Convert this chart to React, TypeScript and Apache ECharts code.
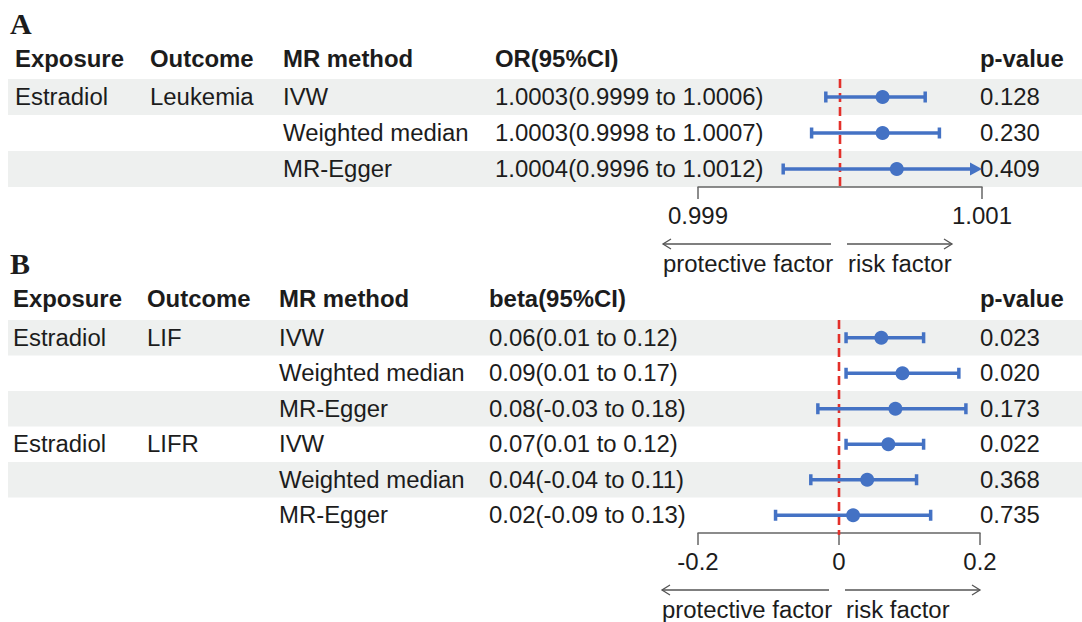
import React, { useEffect, useRef } from "react";
import * as echarts from "echarts";

// ---------- Data ----------
const headersA = ["Exposure", "Outcome", "MR method", "OR(95%CI)", "p-value"];
const exposureA = ["Estradiol", "", ""];
const outcomeA = ["Leukemia", "", ""];
const methodA = ["IVW", "Weighted median", "MR-Egger"];
const orA = [1.0003, 1.0003, 1.0004];
const orLowA = [0.9999, 0.9998, 0.9996];
const orHighA = [1.0006, 1.0007, 1.0012];
const pA = ["0.128", "0.230", "0.409"];
const axisMinA = 0.999; // left tick label
const axisMaxA = 1.001; // right tick label
const nullA = 1;

const headersB = ["Exposure", "Outcome", "MR method", "beta(95%CI)", "p-value"];
const exposureB = ["Estradiol", "", "", "Estradiol", "", ""];
const outcomeB = ["LIF", "", "", "LIFR", "", ""];
const methodB = ["IVW", "Weighted median", "MR-Egger", "IVW", "Weighted median", "MR-Egger"];
const betaB = [0.06, 0.09, 0.08, 0.07, 0.04, 0.02];
const betaLowB = [0.01, 0.01, -0.03, 0.01, -0.04, -0.09];
const betaHighB = [0.12, 0.17, 0.18, 0.12, 0.11, 0.13];
const pB = ["0.023", "0.020", "0.173", "0.022", "0.368", "0.735"];
const axisMinB = -0.2;
const axisMaxB = 0.2;
const nullB = 0;

const leftLabel = "protective factor";
const rightLabel = "risk factor";

// OR axis is drawn in units of 0.001 measured from its left end (so min is 0, a multiple of the interval)
const toA = (v: number) => (v - axisMinA) * 1000;
const fromA = (u: number) => axisMinA + u / 1000;

// ---------- Style / layout ----------
const SANS = '"Liberation Sans", Arial, sans-serif';
const SERIF = '"Liberation Serif", "Times New Roman", serif';
const FS = 23;
const SX = 1.04;
const TXT = "#1c1c1c";
const BAND = "#eef0ef";
const BLUE = "#4472c4";
const RED = "#e3302a";
const AXIS = "#666666";

const A = { top: 79, rowH: 36, headerY: 59, titleY: 23, cols: [15, 150, 283, 495, 980], left: 698, width: 284, arrowY: 244, labelY: 264, leftArrow: [663, 831], rightArrow: [847, 952] };
const B = { top: 320, rowH: 35.5, headerY: 299, titleY: 263, cols: [13, 147, 279, 489, 980], left: 698, width: 282, arrowY: 590, labelY: 610, leftArrow: [662, 829], rightArrow: [845, 980] };

function txt(text: string, x: number, y: number, bold = false, font = SANS, size = FS, sx = SX): any {
  return {
    type: "text",
    x,
    y,
    scaleX: sx,
    silent: true,
    style: {
      text,
      fill: TXT,
      font: `${bold ? "bold " : ""}${size}px ${font}`,
      align: "left",
      verticalAlign: "middle",
      textAlign: "left",
      textVerticalAlign: "middle",
    },
  };
}

function tableGraphics(L: any, headers: string[], cols: string[][], n: number, title: string) {
  const els: any[] = [];
  for (let i = 0; i < n; i += 2) {
    els.push({ type: "rect", silent: true, z: -10, shape: { x: 8, y: L.top + i * L.rowH, width: 1082 - 8, height: L.rowH }, style: { fill: BAND } });
  }
  els.push(txt(title, 10, L.titleY, true, SERIF, 30, 1));
  headers.forEach((h, c) => els.push(txt(h, L.cols[c], L.headerY, true)));
  for (let i = 0; i < n; i++) {
    const yc = L.top + (i + 0.5) * L.rowH;
    cols.forEach((col, c) => {
      if (col[i]) els.push(txt(col[i], L.cols[c], yc));
    });
  }
  const ay = L.arrowY;
  const arrowStyle = { stroke: "#555", lineWidth: 1.3 };
  els.push({ type: "line", silent: true, shape: { x1: L.leftArrow[0], y1: ay, x2: L.leftArrow[1], y2: ay }, style: arrowStyle });
  els.push({ type: "polyline", silent: true, shape: { points: [[L.leftArrow[0] + 8, ay - 5], [L.leftArrow[0], ay], [L.leftArrow[0] + 8, ay + 5]] }, style: { ...arrowStyle, fill: "none" } });
  els.push({ type: "line", silent: true, shape: { x1: L.rightArrow[0], y1: ay, x2: L.rightArrow[1], y2: ay }, style: arrowStyle });
  els.push({ type: "polyline", silent: true, shape: { points: [[L.rightArrow[1] - 8, ay - 5], [L.rightArrow[1], ay], [L.rightArrow[1] - 8, ay + 5]] }, style: { ...arrowStyle, fill: "none" } });
  els.push(txt(leftLabel, L.leftArrow[0], L.labelY));
  els.push(txt(rightLabel, L.rightArrow[0] + 1, L.labelY));
  return els;
}

function renderForest(params: any, api: any) {
  const low = api.value(0);
  const high = api.value(1);
  const est = api.value(2);
  const idx = api.value(3);
  const ref = api.value(4);
  const cs = params.coordSys;
  const pL = api.coord([low, idx]);
  const pH = api.coord([high, idx]);
  const pE = api.coord([est, idx]);
  const y = pE[1];
  let x1 = pL[0];
  let x2 = pH[0];
  let arrowL = false;
  let arrowR = false;
  if (x1 < cs.x) { x1 = cs.x; arrowL = true; }
  if (x2 > cs.x + cs.width) { x2 = cs.x + cs.width; arrowR = true; }
  const ls = { stroke: BLUE, lineWidth: 3.5 };
  const children: any[] = [];
  if (params.dataIndex === 0) {
    const xr = api.coord([ref, idx])[0];
    children.push({ type: "line", z2: -1, shape: { x1: xr, y1: cs.y, x2: xr, y2: cs.y + cs.height + 2 }, style: { stroke: RED, lineWidth: 2.6, lineDash: [9, 5] } });
  }
  children.push({ type: "line", shape: { x1: arrowL ? x1 + 10 : x1, y1: y, x2: arrowR ? x2 - 10 : x2, y2: y }, style: ls });
  if (arrowL) children.push({ type: "polygon", shape: { points: [[x1 + 12, y - 6.5], [x1, y], [x1 + 12, y + 6.5]] }, style: { fill: BLUE } });
  else children.push({ type: "line", shape: { x1, y1: y - 5.5, x2: x1, y2: y + 5.5 }, style: ls });
  if (arrowR) children.push({ type: "polygon", shape: { points: [[x2 - 12, y - 6.5], [x2, y], [x2 - 12, y + 6.5]] }, style: { fill: BLUE } });
  else children.push({ type: "line", shape: { x1: x2, y1: y - 5.5, x2, y2: y + 5.5 }, style: ls });
  children.push({ type: "circle", shape: { cx: pE[0], cy: y, r: 7 }, style: { fill: BLUE } });
  return { type: "group", children };
}

function xAxisOpt(gridIndex: number, min: number, max: number, interval: number, formatter?: (v: number) => string) {
  return {
    type: "value",
    gridIndex,
    min,
    max,
    interval,
    position: "bottom",
    axisLine: { show: true, lineStyle: { color: AXIS, width: 1.5 } },
    axisTick: { show: true, inside: false, length: 12, lineStyle: { color: AXIS, width: 1.5 } },
    axisLabel: { margin: 16, fontSize: 24, fontFamily: SANS, color: TXT, ...(formatter ? { formatter } : {}) },
    splitLine: { show: false },
  };
}

export default function App() {
  const ref = useRef<HTMLDivElement>(null);
  useEffect(() => {
    if (!ref.current) return;
    const chart = echarts.init(ref.current, undefined, { renderer: "svg" });
    const ciA = orA.map((v, i) => `${v.toFixed(4)}(${orLowA[i].toFixed(4)} to ${orHighA[i].toFixed(4)})`);
    const ciB = betaB.map((v, i) => `${v.toFixed(2)}(${betaLowB[i].toFixed(2)} to ${betaHighB[i].toFixed(2)})`);
    const graphics = [
      ...tableGraphics(A, headersA, [exposureA, outcomeA, methodA, ciA, pA], methodA.length, "A"),
      ...tableGraphics(B, headersB, [exposureB, outcomeB, methodB, ciB, pB], methodB.length, "B"),
    ];
    const spanA = toA(axisMaxA);
    chart.setOption({
      animation: false,
      grid: [
        { left: A.left, top: A.top, width: A.width, height: A.rowH * methodA.length },
        { left: B.left, top: B.top, width: B.width, height: B.rowH * methodB.length },
      ],
      xAxis: [
        xAxisOpt(0, 0, spanA, spanA, (v: number) => fromA(v).toFixed(3)),
        xAxisOpt(1, axisMinB, axisMaxB, axisMaxB),
      ],
      yAxis: [
        { type: "category", gridIndex: 0, data: methodA.map((m, i) => `${i}`), inverse: true, show: false },
        { type: "category", gridIndex: 1, data: methodB.map((m, i) => `${i}`), inverse: true, show: false },
      ],
      graphic: { elements: graphics },
      series: [
        {
          type: "custom",
          xAxisIndex: 0,
          yAxisIndex: 0,
          clip: false,
          encode: { x: 2, y: 3 },
          data: orA.map((v, i) => [toA(orLowA[i]), toA(orHighA[i]), toA(v), i, toA(nullA)]),
          renderItem: renderForest,
          z: 5,
        },
        {
          type: "custom",
          xAxisIndex: 1,
          yAxisIndex: 1,
          clip: false,
          encode: { x: 2, y: 3 },
          data: betaB.map((v, i) => [betaLowB[i], betaHighB[i], v, i, nullB]),
          renderItem: renderForest,
          z: 5,
        },
      ],
    });
    return () => chart.dispose();
  }, []);
  return <div ref={ref} style={{ position: "absolute", left: 0, top: 0, width: 1082, height: 622, background: "#fff" }} />;
}
